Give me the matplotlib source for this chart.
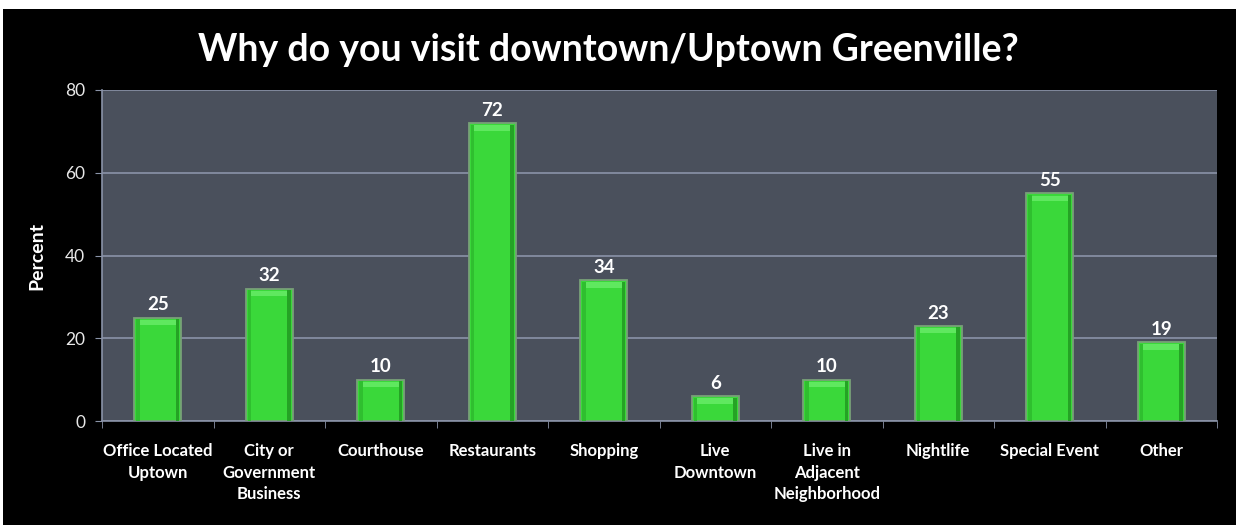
import matplotlib.pyplot as plt
from matplotlib.patches import Rectangle
import numpy as np

plt.rcParams['font.family'] = ['Lato', 'DejaVu Sans']

categories = ['Office Located\nUptown', 'City or\nGovernment\nBusiness', 'Courthouse',
              'Restaurants', 'Shopping', 'Live\nDowntown', 'Live in\nAdjacent\nNeighborhood',
              'Nightlife', 'Special Event', 'Other']
values = [25, 32, 10, 72, 34, 6, 10, 23, 55, 19]
yticks = [0, 20, 40, 60, 80]

fig = plt.figure(figsize=(12.36, 5.25), dpi=100)
fig.patch.set_facecolor('white')
fig.patches.append(Rectangle((3 / 1236, 0), 1, 1 - 9 / 525, transform=fig.transFigure,
                             facecolor='black', edgecolor='none', zorder=-10))

ax = fig.add_axes([102 / 1236, 1 - 421 / 525, (1217 - 102) / 1236, (421 - 90) / 525])
ax.set_facecolor('#4a505c')

x = np.arange(len(categories))
w = 0.42
bars = ax.bar(x, values, width=w, color='#3ad83a', edgecolor='#78a078', linewidth=1.3, zorder=3)
# darker side strips and a lighter band near the top, for the bevelled look
for b in bars:
    cx = b.get_x() + b.get_width() / 2
    h = b.get_height()
    ax.bar(cx - w * 0.42, h - 0.4, width=w * 0.08, color='#2fbf2f', edgecolor='none', zorder=4)
    ax.bar(cx + w * 0.42, h - 0.4, width=w * 0.08, color='#25a325', edgecolor='none', zorder=4)
    ax.bar(cx, 1.3, bottom=h - 1.8, width=w * 0.76, color='#5fe85f', edgecolor='none', zorder=4)

for xi, v in zip(x, values):
    ax.annotate(str(v), (xi, v), xytext=(0, 3), textcoords='offset points', ha='center',
                va='bottom', color='white', fontsize=13.5, fontweight='bold', zorder=5)

ax.set_xlim(-0.5, len(categories) - 0.5)
ax.set_ylim(0, 80)
ax.set_yticks(yticks)
ax.yaxis.grid(True, color='#8a93a8', linewidth=1.2, zorder=0)
ax.set_axisbelow(True)

ax.set_xticks(x)
ax.set_xticklabels(categories, color='white', fontsize=12, fontweight='bold', linespacing=1.42)
ax.set_xticks(np.arange(-0.5, len(categories)), minor=True)
ax.tick_params(axis='x', which='major', length=0, pad=16)
ax.tick_params(axis='x', which='minor', length=5, color='#8a93a8', direction='out')
ax.tick_params(axis='y', length=5, pad=7, color='#8a93a8', labelcolor='#e8e8e8', labelsize=12.5)
for lbl in ax.get_xticklabels():
    lbl.set_va('top')

for s in ['top', 'right']:
    ax.spines[s].set_visible(False)
for s in ['left', 'bottom']:
    ax.spines[s].set_color('#8a93a8')
    ax.spines[s].set_linewidth(1.2)

ax.set_ylabel('Percent', color='white', fontsize=14, fontweight='bold', labelpad=14)

fig.text(608 / 1236, 1 - 50 / 525, 'Why do you visit downtown/Uptown Greenville?', ha='center',
         va='center', color='white', fontsize=27, fontweight='bold')

fig.savefig('out.png', dpi=100, facecolor=fig.get_facecolor())
